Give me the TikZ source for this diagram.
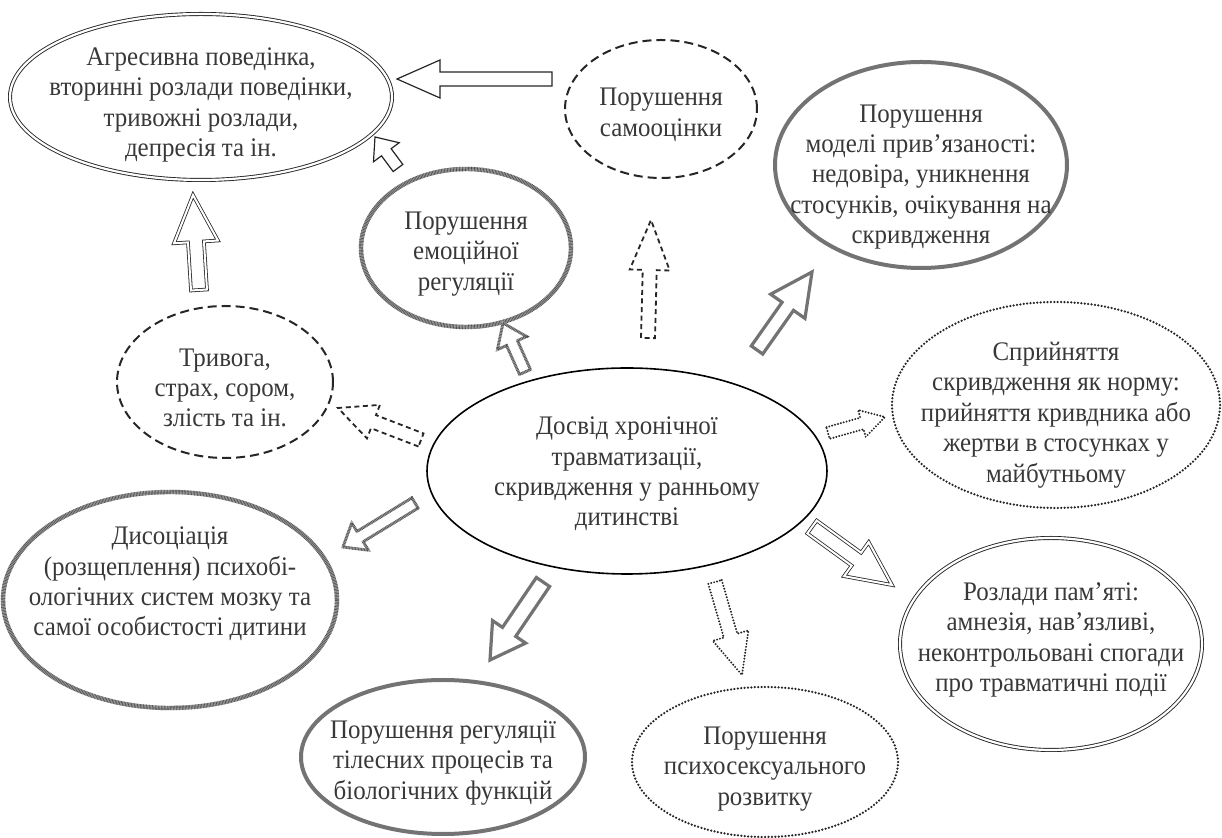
\documentclass[tikz,border=0pt]{standalone}
\usepackage{fontspec}
\setmainfont{Liberation Serif}[FakeStretch=0.93]
\usetikzlibrary{calc,shapes.geometric}
\newcommand\fsz{\fontsize{13.4}{15.2}\selectfont}
% block arrow: #1 style, #2 tail, #3 tip, #4 shaft half width, #5 head half width, #6 head length
\newcommand\barrow[6]{%
  \coordinate (bp) at ($(#3)!#6!(#2)$);
  \draw[#1] ($(#2)!#4!90:(#3)$) -- ($(bp)!#4!90:(#3)$) -- ($(bp)!#5!90:(#3)$) -- (#3)
    -- ($(bp)!#5!-90:(#3)$) -- ($(bp)!#4!-90:(#3)$) -- ($(#2)!#4!-90:(#3)$) -- cycle;
}
\tikzset{
  ell/.style={ellipse, inner sep=0pt},
  lbl/.style={align=center, text=black!78, font=\fsz, inner sep=0pt},
  hatchln/.style={draw=black!35, line width=#1,
    postaction={draw=black!70, line width=#1, dash pattern=on 0.3pt off 0.45pt}},
  dblb/.style={ell, draw=black!85, line width=0.45pt, double=white, double distance=1.1pt},
  thickg/.style={ell, draw=black!55, line width=2pt},
  hatche/.style={ell, hatchln=2.2pt},
  dsh/.style={ell, draw=black!85, line width=1pt, dash pattern=on 4.5pt off 2.5pt},
  dotl/.style={ell, draw=black!85, line width=1.25pt, line cap=round, dash pattern=on 0pt off 1.7pt},
  thinb/.style={ell, draw=black, line width=0.8pt},
  arrblk/.style={draw=black!85, line width=0.6pt, fill=white, line join=miter},
  arrdbl/.style={draw=black!85, line width=0.4pt, double=white, double distance=1pt, line join=miter},
  arrgray/.style={draw=black!55, line width=1.6pt, fill=white, line join=miter},
  arrhatch/.style={hatchln=1.4pt, line join=miter},
  arrdash/.style={draw=black!85, line width=0.9pt, dash pattern=on 2.5pt off 1.8pt, fill=white},
  arrdot/.style={draw=black!85, line width=1.1pt, line cap=round, dash pattern=on 0pt off 1.5pt, fill=white},
}
\begin{document}
\begin{tikzpicture}[x=0.5pt, y=-0.5pt]
\useasboundingbox (0,0) rectangle (1222,838);

% ellipses
\node[dblb, minimum width=191pt, minimum height=83pt] (agg) at (201,97)
  [label={[lbl, yshift=-4pt]center:Агресивна поведінка,\\вторинні розлади поведінки,\\тривожні розлади,\\депресія та ін.}] {};
\node[dsh, minimum width=96pt, minimum height=69pt] (self) at (661,109)
  [label={[lbl, yshift=-3pt]center:Порушення\\самооцінки}] {};
\node[thickg, minimum width=146pt, minimum height=103pt] (att) at (921,165)
  [label={[lbl, yshift=-6pt]center:Порушення\\моделі прив’язаності:\\недовіра, уникнення\\стосунків, очікування на\\скривдження}] {};
\node[hatche, minimum width=105pt, minimum height=79pt] (emo) at (466,248)
  [label={[lbl, yshift=-3pt]center:Порушення\\емоційної\\регуляції}] {};
\node[dsh, minimum width=108pt, minimum height=76pt] (anx) at (225,382)
  [label={[lbl, yshift=-3pt]center:Тривога,\\страх, сором,\\злість та ін.}] {};
\node[thinb, minimum width=200pt, minimum height=103pt] (ctr) at (627,471)
  [label={[lbl, yshift=-1.5pt]center:Досвід хронічної\\травматизації,\\скривдження у ранньому\\дитинстві}] {};
\node[dotl, minimum width=164pt, minimum height=103pt] (perc) at (1056,405)
  [label={[lbl, yshift=-5pt]center:Сприйняття\\скривдження як норму:\\прийняття кривдника або\\жертви в стосунках у\\майбутньому}] {};
\node[hatche, minimum width=167pt, minimum height=108pt] (dis) at (170,600)
  [label={[lbl, yshift=8pt]center:Дисоціація\\(розщеплення) психобі-\\ологічних систем мозку та\\самої особистості дитини}] {};
\node[thickg, minimum width=142pt, minimum height=77pt] (body) at (443,757)
  [label={[lbl, yshift=-3pt]center:Порушення регуляції\\тілесних процесів та\\біологічних функцій}] {};
\node[dotl, minimum width=133pt, minimum height=75pt] (psy) at (765,762)
  [label={[lbl, yshift=-3.5pt]center:Порушення\\психосексуального\\розвитку}] {};
\node[dblb, minimum width=151pt, minimum height=106pt] (mem) at (1051,644)
  [label={[lbl, yshift=2pt]center:Розлади пам’яті:\\амнезія, нав’язливі,\\неконтрольовані спогади\\про травматичні події}] {};

% arrow end points
\coordinate (a1s) at (552,79);  \coordinate (a1e) at (397,79);
\coordinate (a2s) at (398,168); \coordinate (a2e) at (375,137);
\coordinate (a3s) at (199,290); \coordinate (a3e) at (193,195);
\coordinate (a4s) at (525,372); \coordinate (a4e) at (503,323);
\coordinate (a5s) at (648,338); \coordinate (a5e) at (651,220);
\coordinate (a6s) at (757,350); \coordinate (a6e) at (812,272);
\coordinate (a7s) at (421,440); \coordinate (a7e) at (338,408);
\coordinate (a8s) at (828,433); \coordinate (a8e) at (885,417);
\coordinate (a9s) at (812,527); \coordinate (a9e) at (892,585);
\coordinate (a10s) at (715,582); \coordinate (a10e) at (742,675);
\coordinate (a11s) at (543,582); \coordinate (a11e) at (490,660);
\coordinate (a12s) at (415,503); \coordinate (a12e) at (343,547);

\barrow{arrblk}{a1s}{a1e}{3.5pt}{9.5pt}{21.5pt}
\barrow{arrblk}{a2s}{a2e}{3pt}{8pt}{9.5pt}
\barrow{arrdbl}{a3s}{a3e}{4pt}{11pt}{23.5pt}
\barrow{arrhatch}{a4s}{a4e}{3pt}{8pt}{11pt}
\barrow{arrdash}{a5s}{a5e}{3.5pt}{10pt}{25pt}
\barrow{arrgray}{a6s}{a6e}{3.5pt}{10.5pt}{21pt}
\barrow{arrdash}{a7s}{a7e}{3.5pt}{9pt}{19pt}
\barrow{arrdot}{a8s}{a8e}{3pt}{7pt}{12pt}
\barrow{arrdbl}{a9s}{a9e}{4pt}{10.5pt}{22pt}
\barrow{arrdot}{a10s}{a10e}{3.5pt}{9.3pt}{20.5pt}
\barrow{arrgray}{a11s}{a11e}{4pt}{10pt}{17pt}
\barrow{arrhatch}{a12s}{a12e}{3pt}{8pt}{10pt}
\end{tikzpicture}
\end{document}
